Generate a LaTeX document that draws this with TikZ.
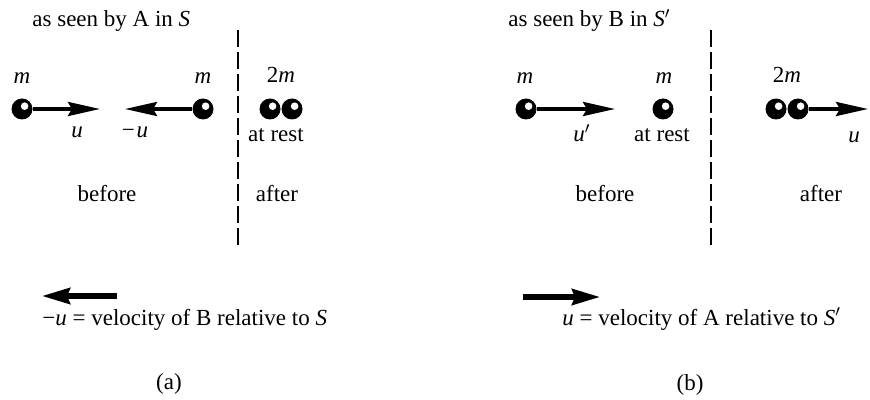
\documentclass[tikz,border=0pt]{standalone}
\usepackage{fontspec}
\setmainfont{Liberation Serif}
\usetikzlibrary{arrows.meta}
\tikzset{
  ball/.style={circle, fill=black, inner sep=0pt, minimum size=10.5pt,
    path picture={\fill[white] ([shift={(1.3pt,1.4pt)}]path picture bounding box.center) circle (1.9pt);}},
  vel/.style={line width=1.75pt, -{Stealth[length=16pt, width=7pt, inset=2pt]}},
  bigvel/.style={line width=2.6pt, -{Stealth[length=14pt, width=8pt, inset=1.5pt]}},
  split/.style={line width=1.2pt, dash pattern=on 8.5pt off 2.5pt},
  lab/.style={anchor=base, inner sep=0pt}
}
\begin{document}
\begin{tikzpicture}[x=0.5pt, y=-0.5pt, font=\fontsize{11.5}{14}\selectfont]
    \useasboundingbox (0,0) rectangle (870,400);
    \node[lab, anchor=base west] (titleA) at (32,27) {as seen by A in \textit{S}};
    \coordinate (splitA top) at (238,30); \coordinate (splitA bot) at (238,245);
    \draw[split] (splitA top) -- (splitA bot);
    \node[ball] (A) at (22,109) {}; \node[ball] (B) at (203,109) {};
    \coordinate (A tip) at (100,109); \coordinate (B tip) at (125,109);
    \draw[vel] (A) -- (A tip); \draw[vel] (B) -- (B tip);
    \node[lab] (mA) at (22,84) {\textit{m}};
    \node[lab] (mB) at (203,84) {\textit{m}};
    \node[lab] (uA) at (77,138) {\textit{u}};
    \node[lab] (uB) at (135,138) {−\kern1pt\textit{u}};
    \node[ball] (AB1) at (270,109) {}; \node[ball] (AB2) at (292,109) {};
    \node[lab] (mAB) at (281,83) {2\textit{m}};
    \node[lab] (restAB) at (276,142) {at rest};
    \node[lab] (beforeA) at (107,202) {before};
    \node[lab] (afterA) at (277,202) {after};
    \coordinate (velB start) at (117,296); \coordinate (velB end) at (42,296);
    \draw[bigvel] (velB start) -- (velB end);
    \node[lab, anchor=base west] (velB) at (42,325) {−\textit{u} = velocity of B relative to \textit{S}};
    \node[lab] (capA) at (169,389) {(a)};
    \node[lab, anchor=base west] (titleB) at (508,27) {as seen by B in \textit{S}$'$};
    \coordinate (splitB top) at (711,30); \coordinate (splitB bot) at (711,245);
    \draw[split] (splitB top) -- (splitB bot);
    \node[ball] (A') at (526,109) {}; \node[ball] (B') at (663,109) {};
    \coordinate (A' tip) at (615,109);
    \draw[vel] (A') -- (A' tip);
    \node[lab] (mA') at (525,84) {\textit{m}};
    \node[lab] (mB') at (664,84) {\textit{m}};
    \node[lab] (uA') at (582,142) {\textit{u}$'$};
    \node[lab] (restB') at (662,142) {at rest};
    \node[ball] (AB1') at (776,109) {}; \node[ball] (AB2') at (798,109) {};
    \coordinate (AB' tip) at (868,109);
    \draw[vel] (AB2') -- (AB' tip);
    \node[lab] (mAB') at (787,83) {2\textit{m}};
    \node[lab] (uAB') at (854,143) {\textit{u}};
    \node[lab] (beforeB) at (605,202) {before};
    \node[lab] (afterB) at (821,202) {after};
    \coordinate (velA start) at (523,297); \coordinate (velA end) at (600,297);
    \draw[bigvel] (velA start) -- (velA end);
    \node[lab, anchor=base west] (velA) at (562,325) {\textit{u} = velocity of A relative to \textit{S}$'$};
    \node[lab] (capB) at (690,390) {(b)};
\end{tikzpicture}
\end{document}
